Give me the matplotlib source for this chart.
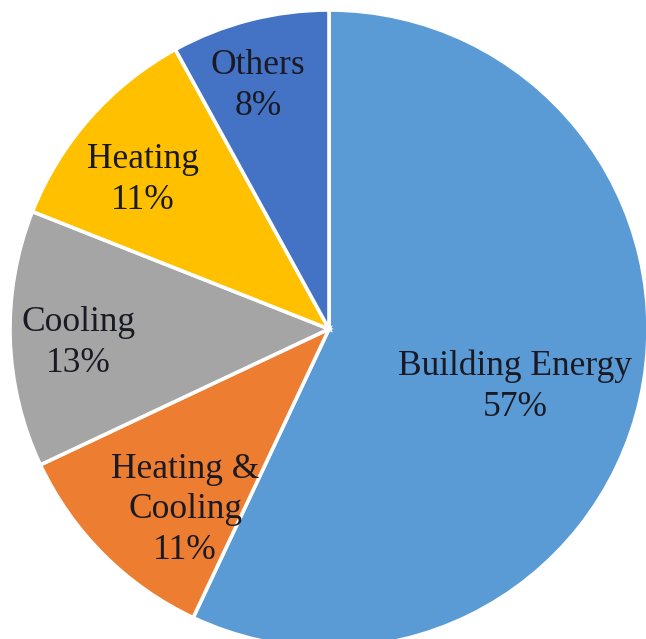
import matplotlib
matplotlib.use("Agg")
import matplotlib.pyplot as plt
import numpy as np

categories = ["Building Energy", "Heating &\nCooling", "Cooling", "Heating", "Others"]
values = [57, 11, 13, 11, 8]
colors = ["#5B9BD5", "#ED7D31", "#A5A5A5", "#FFC000", "#4472C4"]
label_radius = [0.611, 0.725, 0.788, 0.747, 0.794]
label_angle_offset = [-4.7, 6.5, 1.4, 2.7, 1.9]

W, H = 646, 639
cx, cy, R = 329, 329, 319

fig = plt.figure(figsize=(W / 100, H / 100), dpi=100)
ax = fig.add_axes([0, 0, 1, 1])
wedges, _ = ax.pie(values, colors=colors, startangle=90, counterclock=False,
                   radius=1.0, center=(0, 0),
                   wedgeprops=dict(edgecolor="white", linewidth=2.6))
ax.set_aspect("auto")
ax.set_xlim(-cx / R, (W - cx) / R)
ax.set_ylim(-(H - cy) / R, cy / R)
ax.axis("off")

total = sum(values)
cum = 0
for i, (cat, v) in enumerate(zip(categories, values)):
    mid = 90 - (cum + v / 2) / total * 360 + label_angle_offset[i]
    cum += v
    r = label_radius[i]
    x = r * np.cos(np.radians(mid))
    y = r * np.sin(np.radians(mid))
    ax.text(x, y, f"{cat}\n{v}%", ha="center", va="center",
            family="Liberation Serif", fontsize=25.5, color="#1a1a24",
            linespacing=1.3)

fig.savefig("out.png", dpi=100)
